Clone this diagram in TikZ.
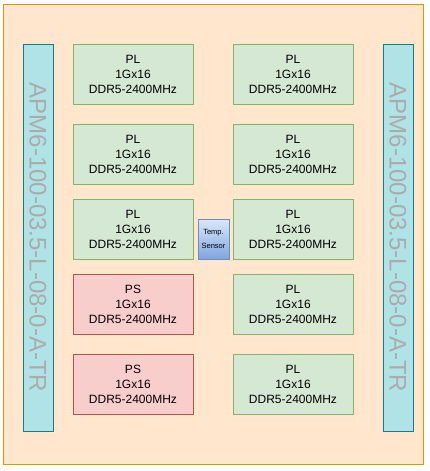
\documentclass[tikz,border=0pt]{standalone}
\usepackage{fontspec}
\setmainfont{Liberation Sans}
\usetikzlibrary{positioning}

\definecolor{boardfill}{HTML}{FFE6CC}
\definecolor{boardline}{HTML}{D79B00}
\definecolor{barfill}{HTML}{B0E3E6}
\definecolor{barline}{HTML}{0E8088}
\definecolor{plfill}{HTML}{D5E8D4}
\definecolor{plline}{HTML}{82B366}
\definecolor{psfill}{HTML}{F8CECC}
\definecolor{psline}{HTML}{B85450}
\definecolor{sensortop}{HTML}{DAE8FC}
\definecolor{sensorbot}{HTML}{7EA6E0}
\definecolor{sensorline}{HTML}{6C8EBF}
\definecolor{bartext}{HTML}{ABABAB}

\begin{document}
\begin{tikzpicture}[
  x=1pt,y=-1pt,
  mem/.style={draw,line width=.8pt,minimum width=120pt,minimum height=60pt,align=center,
    font=\fontsize{12}{15}\selectfont,inner sep=0pt},
  plchip/.style={mem,fill=plfill,draw=plline},
  pschip/.style={mem,fill=psfill,draw=psline},
  conn/.style={draw=barline,fill=barfill,line width=.8pt,minimum width=30pt,minimum height=387pt,inner sep=0pt},
  conntext/.style={text=bartext,font=\fontsize{24}{26}\selectfont,rotate=-90}
]
  \useasboundingbox (0,0) rectangle (430,471);
  \node[draw=boardline,fill=boardfill,line width=.8pt,minimum width=420pt,minimum height=460pt] (board) at (213,234) {};

  % connectors on both sides
  \node[conn] (connL) at (38,237.5) {};
  \node[conn] (connR) at (398,237.5) {};
  \node[conntext] at (connL) {APM6-100-03.5-L-08-0-A-TR};
  \node[conntext] at (connR) {APM6-100-03.5-L-08-0-A-TR};

  % memory chips
  \node[plchip] (pl1) at (133,74) {PL\\1Gx16\\DDR5-2400MHz};
  \node[plchip] (pl2) at (133,154) {PL\\1Gx16\\DDR5-2400MHz};
  \node[plchip] (pl3) at (133,229) {PL\\1Gx16\\DDR5-2400MHz};
  \node[pschip] (ps1) at (133,304) {PS\\1Gx16\\DDR5-2400MHz};
  \node[pschip] (ps2) at (133,384) {PS\\1Gx16\\DDR5-2400MHz};
  \node[plchip] (pl4) at (293,74) {PL\\1Gx16\\DDR5-2400MHz};
  \node[plchip] (pl5) at (293,154) {PL\\1Gx16\\DDR5-2400MHz};
  \node[plchip] (pl6) at (293,229) {PL\\1Gx16\\DDR5-2400MHz};
  \node[plchip] (pl7) at (293,304) {PL\\1Gx16\\DDR5-2400MHz};
  \node[plchip] (pl8) at (293,384) {PL\\1Gx16\\DDR5-2400MHz};

  % temperature sensor
  \node[draw=sensorline,top color=sensortop,bottom color=sensorbot,line width=.8pt,
    minimum width=31pt,minimum height=40pt,inner sep=0pt,align=center,
    font=\fontsize{7.5}{14}\selectfont] (sensor) at (213.5,239) {Temp.\\Sensor};
\end{tikzpicture}
\end{document}
